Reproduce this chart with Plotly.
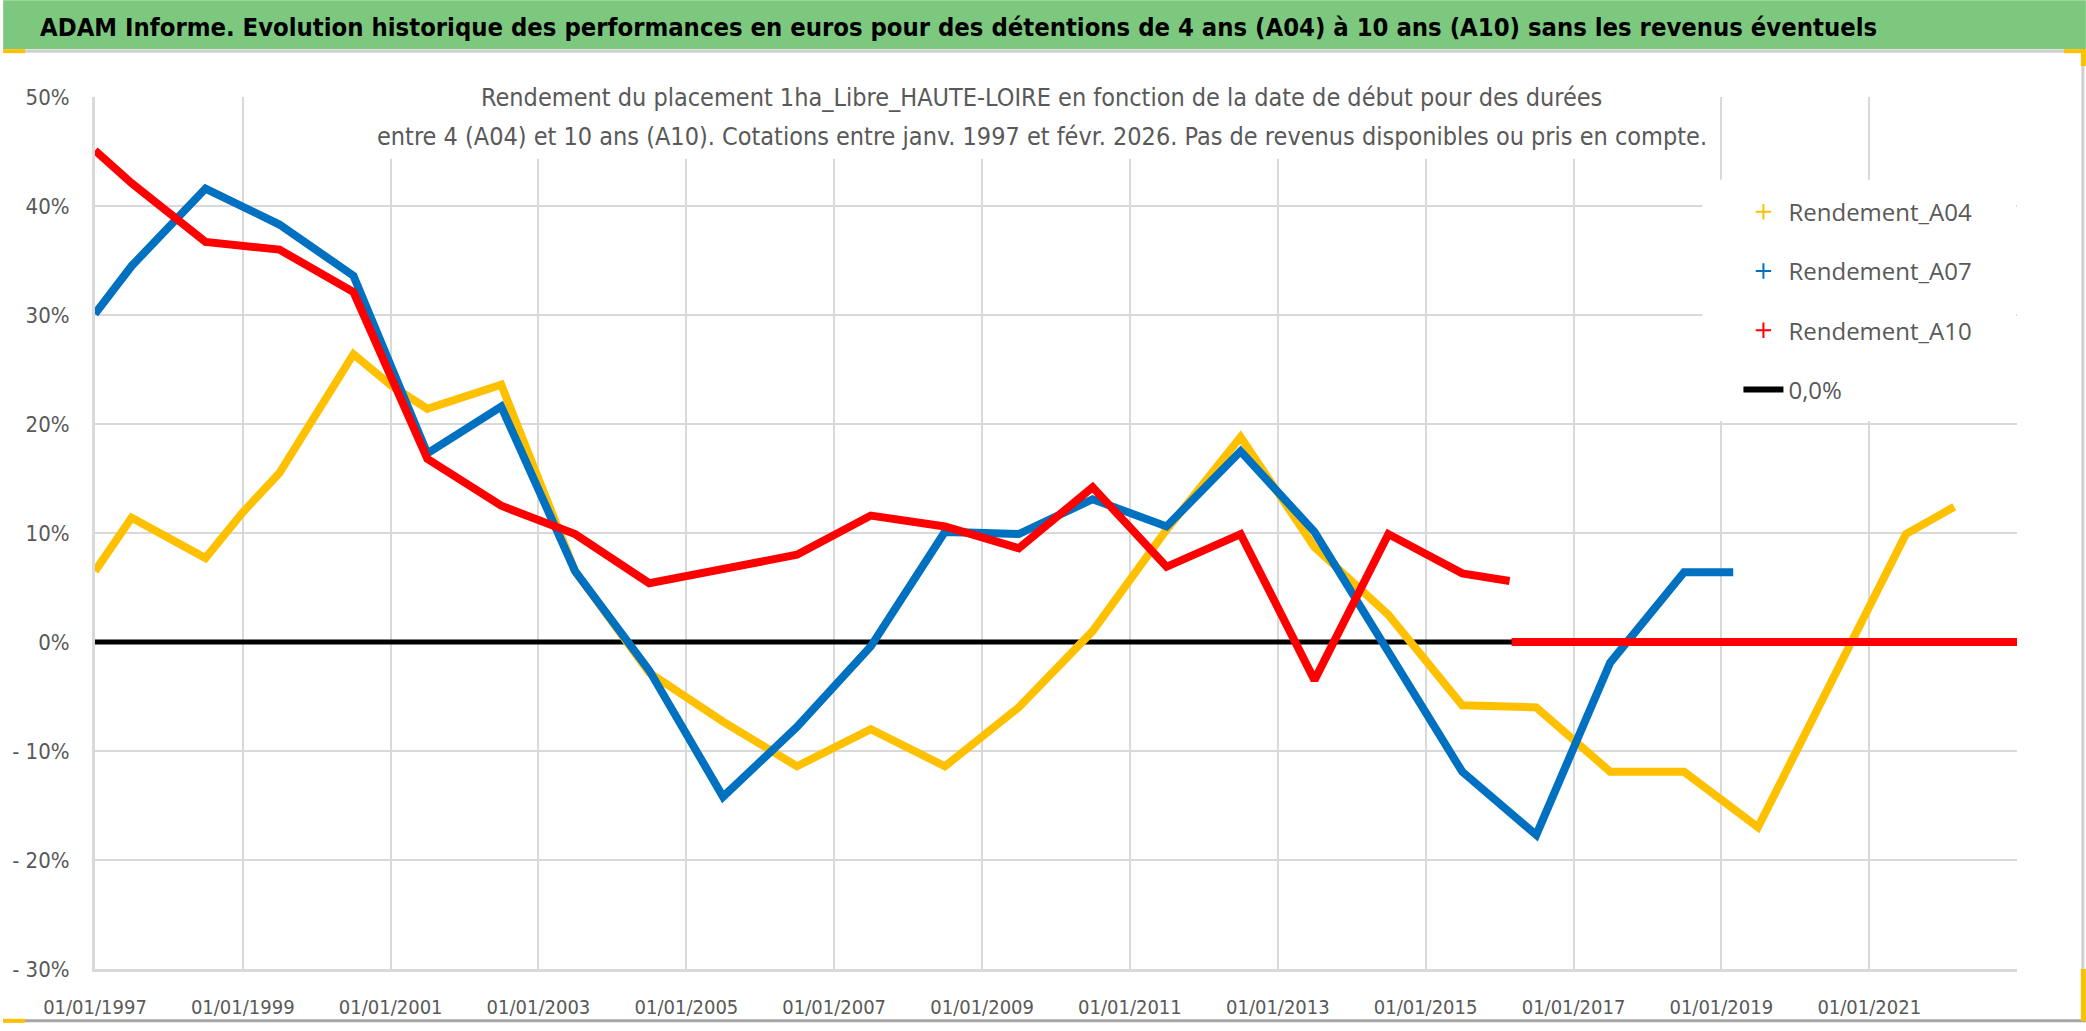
import plotly.graph_objects as go

# ---------------- data ----------------
dates_a04 = ["1997-01-01", "1997-07-01", "1998-07-01", "1999-01-01", "1999-07-01", "2000-01-01",
             "2000-07-01", "2001-01-05", "2001-07-01", "2002-07-01", "2003-01-01", "2003-07-01",
             "2004-07-01", "2005-07-01", "2006-07-01", "2007-07-01", "2008-07-01", "2009-07-01",
             "2010-07-01", "2011-07-01", "2012-07-01", "2013-07-01", "2014-07-01", "2015-07-01",
             "2016-07-01", "2017-07-01", "2018-07-01", "2019-07-01", "2021-07-01", "2022-02-25"]
vals_a04 = [6.5, 11.4, 7.7, 11.9, 15.5, 20.9, 26.4, 23.5, 21.4, 23.6, 14.9, 6.5,
            -2.8, -7.3, -11.4, -8.0, -11.4, -6.0, 1.0, 10.3, 18.8, 8.7, 2.5, -5.8,
            -6.0, -11.9, -11.9, -17.0, 9.9, 12.4]

dates_a07 = ["1997-01-01", "1997-07-01", "1998-07-01", "1999-07-01", "2000-07-01", "2001-07-01",
             "2002-07-01", "2003-07-01", "2004-07-01", "2005-07-01", "2006-07-01", "2007-07-01",
             "2008-07-01", "2009-07-01", "2010-07-01", "2011-07-01", "2012-07-01", "2013-07-01",
             "2015-07-01", "2016-07-01", "2017-07-01", "2018-07-01", "2019-03-01"]
vals_a07 = [30.1, 34.5, 41.6, 38.3, 33.6, 17.3, 21.6, 6.5, -2.6, -14.2, -7.8, -0.4,
            10.1, 9.9, 13.1, 10.6, 17.5, 10.1, -11.9, -17.7, -1.9, 6.4, 6.4]

dates_a10 = ["1997-01-01", "1997-07-01", "1998-07-01", "1999-07-01", "2000-07-01", "2001-07-01",
             "2002-07-01", "2003-07-01", "2004-07-01", "2005-07-01", "2006-07-01", "2007-07-01",
             "2008-07-01", "2009-07-01", "2010-07-01", "2011-07-01", "2012-07-01", "2013-07-01",
             "2014-07-01", "2015-07-01", "2016-02-20"]
vals_a10 = [45.1, 42.1, 36.7, 36.0, 32.1, 16.8, 12.5, 9.9, 5.4, 6.7, 8.0, 11.6,
            10.6, 8.6, 14.2, 6.9, 9.9, -3.5, 9.9, 6.3, 5.6]
dates_a10_zero = ["2016-03-01", "2023-01-01"]
vals_a10_zero = [0, 0]

dates_zero = ["1997-01-01", "2023-01-01"]
vals_zero = [0, 0]

x_tick_vals = ["1997-01-01", "1999-01-01", "2001-01-01", "2003-01-01", "2005-01-01", "2007-01-01",
               "2009-01-01", "2011-01-01", "2013-01-01", "2015-01-01", "2017-01-01", "2019-01-01",
               "2021-01-01"]
x_tick_text = ["01/01/1997", "01/01/1999", "01/01/2001", "01/01/2003", "01/01/2005", "01/01/2007",
               "01/01/2009", "01/01/2011", "01/01/2013", "01/01/2015", "01/01/2017", "01/01/2019",
               "01/01/2021"]
y_tick_vals = [50, 40, 30, 20, 10, 0, -10, -20, -30]
y_tick_text = ["50%", "40%", "30%", "20%", "10%", "0%", "- 10%", "- 20%", "- 30%"]

series_names = ["Rendement_A04", "Rendement_A07", "Rendement_A10", "0,0%"]

title_text = ("ADAM Informe. Evolution historique des performances en euros pour des détentions "
              "de 4 ans (A04) à 10 ans (A10) sans les revenus éventuels")
subtitle_1 = ("Rendement du placement 1ha_Libre_HAUTE-LOIRE en fonction de la date de début "
              "pour des durées")
subtitle_2 = ("entre 4 (A04) et 10 ans (A10). Cotations entre janv. 1997 et févr. 2026. "
              "Pas de revenus disponibles ou pris en compte.")

# ---------------- styling ----------------
W, H = 2086, 1031
L, R, T, B = 92, 2017, 97, 972   # plot area in pixels
C_A04, C_A07, C_A10 = "#FFC000", "#0070C0", "#FF0000"
GREY_TXT = "#595959"
GRID = "#D9D9D9"
NARROW = "Liberation Sans Narrow, Arial Narrow, DejaVu Sans Condensed, sans-serif"
WIDE = "Open Sans, Noto Sans, sans-serif"


def px(xp):
    return (xp - L) / (R - L)


def py(yp):
    return (B - yp) / (B - T)


fig = go.Figure()

# zero line (under the data)
fig.add_trace(go.Scatter(x=dates_zero, y=vals_zero, mode="lines", name=series_names[3],
                         line=dict(color="black", width=5), showlegend=False,
                         legendgroup="g4", hoverinfo="skip"))

lw = 8
fig.add_trace(go.Scatter(x=dates_a04, y=vals_a04, mode="lines", line=dict(color=C_A04, width=lw),
                         showlegend=False, name=series_names[0]))
fig.add_trace(go.Scatter(x=dates_a07, y=vals_a07, mode="lines", line=dict(color=C_A07, width=lw),
                         showlegend=False, name=series_names[1]))
fig.add_trace(go.Scatter(x=dates_a10, y=vals_a10, mode="lines", line=dict(color=C_A10, width=lw),
                         showlegend=False, name=series_names[2]))
fig.add_trace(go.Scatter(x=dates_a10_zero, y=vals_a10_zero, mode="lines",
                         line=dict(color=C_A10, width=lw), showlegend=False, name=series_names[2]))

# legend entries
for i, c in enumerate([C_A04, C_A07, C_A10]):
    fig.add_trace(go.Scatter(x=[None], y=[None], mode="markers", name=series_names[i],
                             legendgroup=f"g{i}",
                             marker=dict(symbol="cross-thin", size=11, color=c,
                                         line=dict(color=c, width=2))))
fig.add_trace(go.Scatter(x=[None], y=[None], mode="lines", name=series_names[3], legendgroup="g3",
                         line=dict(color="black", width=6)))

shapes = []
# green title bar
shapes.append(dict(type="rect", xref="paper", yref="paper", x0=px(0), x1=px(W), y0=py(49), y1=py(0),
                   fillcolor="#7DC87F", line=dict(width=0), layer="above"))
# chart border lines
shapes.append(dict(type="line", xref="paper", yref="paper", x0=px(0), x1=px(W), y0=py(51), y1=py(51),
                   line=dict(color="#D0D0D0", width=3), layer="above"))
shapes.append(dict(type="line", xref="paper", yref="paper", x0=px(0), x1=px(W), y0=py(1024), y1=py(1024),
                   line=dict(color="#A6A6A6", width=3), layer="above"))
shapes.append(dict(type="line", xref="paper", yref="paper", x0=px(2083), x1=px(2083), y0=py(52), y1=py(1024),
                   line=dict(color="#D0D0D0", width=3), layer="above"))
# white boxes behind subtitle and legend (hide gridlines)
shapes.append(dict(type="rect", xref="paper", yref="paper", x0=px(381), x1=px(1700), y0=py(159), y1=py(80),
                   fillcolor="white", line=dict(width=0), layer="above"))
shapes.append(dict(type="rect", xref="paper", yref="paper", x0=px(1702), x1=px(2016), y0=py(422), y1=py(180),
                   fillcolor="white", line=dict(width=0), layer="above"))
# selection handles (yellow)
for (x0, y0, x1, y1) in [(0, 49, 22, 53), (2064, 49, 2086, 53), (2081, 49, 2086, 66),
                         (2081, 972, 2086, 1024), (0, 1022, 22, 1026)]:
    shapes.append(dict(type="rect", xref="paper", yref="paper", x0=px(x0), x1=px(x1), y0=py(y1), y1=py(y0),
                       fillcolor="#FFC000", line=dict(width=0), layer="above"))

annotations = [
    dict(text="<b>" + title_text + "</b>", xref="paper", yref="paper", x=px(35), y=py(27),
         xanchor="left", yanchor="middle", showarrow=False,
         font=dict(family=NARROW, size=25.4, color="black")),
    dict(text=subtitle_1, xref="paper", yref="paper", x=px(1040), y=py(97),
         xanchor="center", yanchor="middle", showarrow=False,
         font=dict(family=NARROW, size=25, color=GREY_TXT)),
    dict(text=subtitle_2, xref="paper", yref="paper", x=px(1040), y=py(137),
         xanchor="center", yanchor="middle", showarrow=False,
         font=dict(family=NARROW, size=25, color=GREY_TXT)),
]

fig.update_layout(
    width=W, height=H,
    margin=dict(l=L, r=W - R, t=T, b=H - B, pad=0),
    paper_bgcolor="white", plot_bgcolor="white",
    showlegend=True,
    legend=dict(x=px(1738), y=py(190), xanchor="left", yanchor="top",
                bgcolor="rgba(0,0,0,0)", tracegroupgap=25,
                font=dict(family=WIDE, size=24, color=GREY_TXT),
                itemwidth=40),
    shapes=shapes, annotations=annotations,
    xaxis=dict(type="date", range=["1997-01-01", "2023-01-01"], tickmode="array",
               tickvals=x_tick_vals, ticktext=x_tick_text, showgrid=True, gridcolor=GRID, gridwidth=2,
               showline=True, linecolor=GRID, linewidth=3, zeroline=False, ticks="",
               tickfont=dict(family=NARROW, size=20, color=GREY_TXT), ticklabelstandoff=18),
    yaxis=dict(range=[-30, 50], tickmode="array", tickvals=y_tick_vals, ticktext=y_tick_text,
               showgrid=True, gridcolor=GRID, gridwidth=2, showline=True, linecolor=GRID, linewidth=3,
               zeroline=False, ticks="", tickfont=dict(family=NARROW, size=22, color=GREY_TXT),
               ticklabelstandoff=18),
)

fig.write_html("out.html", include_plotlyjs=True, config={"displayModeBar": False},
               post_script="document.body.style.margin='0';document.body.style.overflow='hidden';")
